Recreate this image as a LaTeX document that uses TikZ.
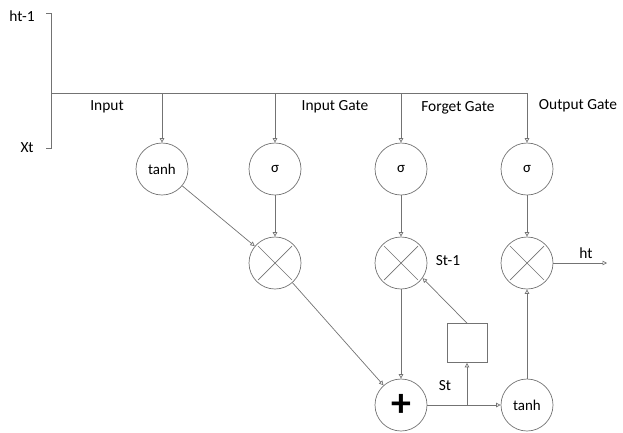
\documentclass[tikz,border=0pt]{standalone}
\usepackage{fontspec}
\setmainfont{Carlito}
\usetikzlibrary{arrows.meta,calc}
\begin{document}
\begin{tikzpicture}[x=1bp,y=-1bp,
  wire/.style={draw=black!55, line width=0.7bp},
  flow/.style={wire, -{Triangle[open,length=4.5bp,width=4.5bp]}},
  unit/.style={circle, draw=black!55, line width=0.7bp, minimum size=52bp,
               inner sep=0pt, font=\fontsize{15}{17}\selectfont},
  lbl/.style={font=\fontsize{15.5}{18}\selectfont, inner sep=0pt},
  delay/.style={draw=black!55, line width=0.7bp, minimum width=40bp,
                minimum height=39bp, inner sep=0pt}]
\useasboundingbox (0,0) rectangle (623,432);

% gate units
\node[unit] (tin)  at (162,169) {tanh};
\node[unit] (sin)  at (275,169) {σ};
\node[unit] (sfg)  at (401,169) {σ};
\node[unit] (sout) at (527,169) {σ};
% pointwise products
\node[unit] (min)  at (275,263) {};
\node[unit] (mfg)  at (401,263) {};
\node[unit] (mout) at (527,263) {};
\foreach \m in {min,mfg,mout} {
  \draw[wire] ($(\m)+(45:24)$) -- ($(\m)+(225:24)$);
  \draw[wire] ($(\m)+(135:24)$) -- ($(\m)+(315:24)$);
}
% cell sum, output squashing and delay
\node[unit] (add)  at (401,405) {\fontsize{40}{40}\selectfont\bfseries +};
\node[unit] (tout) at (527,405) {tanh};
\node[delay] (mem) at (467,343) {};

% inputs
\node[lbl] (lh) at (22,16) {ht-1};
\node[lbl] (lx) at (27,148) {Xt};
\coordinate (htick) at (46,13);
\coordinate (top)   at (51,13);
\coordinate (bot)   at (51,148);
\coordinate (xtick) at (46,148);
\coordinate (join)  at (51,93);
\coordinate (busend) at (527,93);
\draw[wire] (htick) -- (top) -- (bot) -- (xtick);
\draw[wire] (join) -- (busend);

% bus to the gates
\draw[flow] (tin|-join) -- (tin);
\draw[flow] (sin|-join) -- (sin);
\draw[flow] (sfg|-join) -- (sfg);
\draw[flow] (busend) -- (sout);

% gate labels
\node[lbl] (l1) at (107,107) {Input};
\node[lbl] (l2) at (335,107) {Input Gate};
\node[lbl] (l3) at (458,108) {Forget Gate};
\node[lbl] (l4) at (578,106) {Output Gate};

% internal flow
\draw[flow] (tin) -- (min);
\draw[flow] (sin) -- (min);
\draw[flow] (sfg) -- (mfg);
\draw[flow] (sout) -- (mout);
\draw[flow] (min) -- (add);
\draw[flow] (mfg) -- (add);
\draw[flow] (add) -- (tout);
\coordinate (split) at (mem|-add);
\draw[flow] (split) -- (mem);
\draw[flow] (mem.north) -- (mfg.-35);
\draw[flow] (tout) -- (mout);
\coordinate (hout) at (607,263);
\draw[flow] (mout) -- (hout);

% state labels
\node[lbl] (lst1) at (448,261) {St-1};
\node[lbl] (lst)  at (445,386) {St};
\node[lbl] (lht)  at (586,253) {ht};
\end{tikzpicture}
\end{document}
